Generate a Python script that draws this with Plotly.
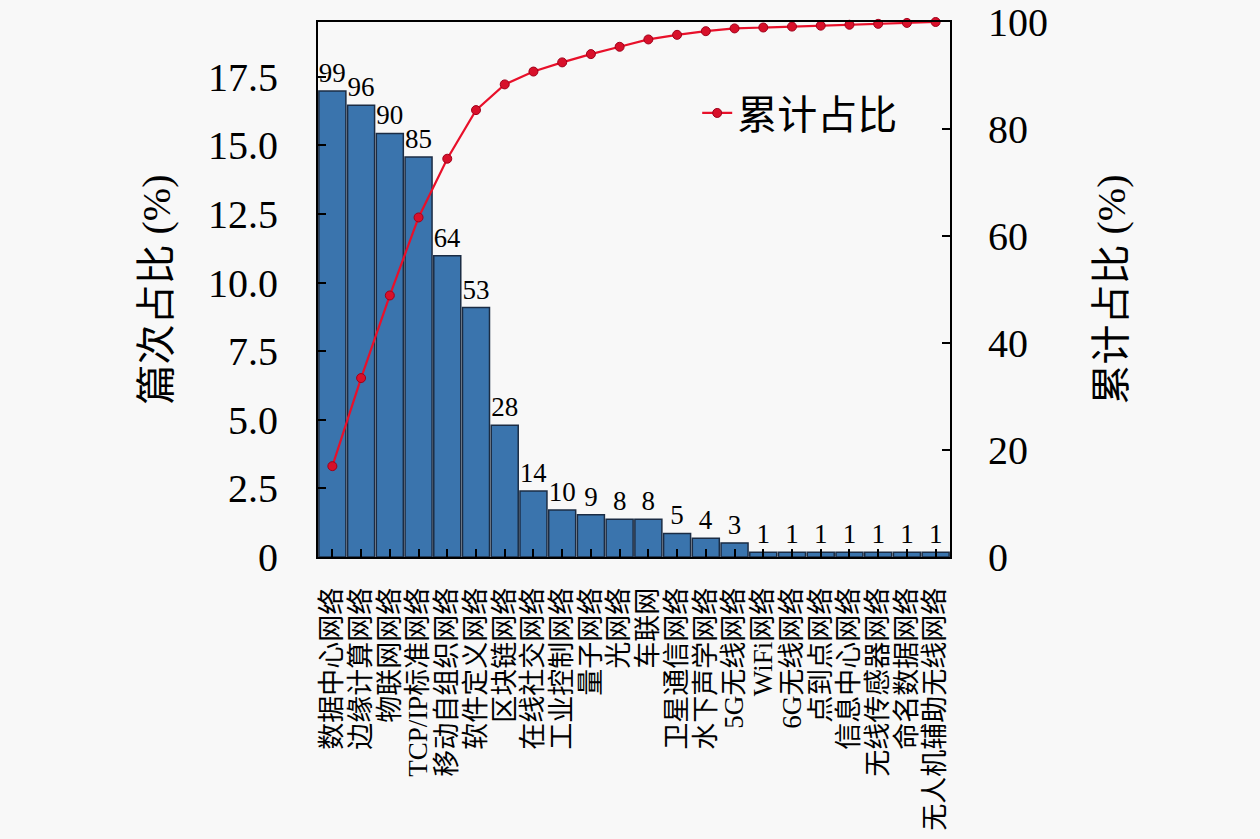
import plotly.graph_objects as go

categories = ["数据中心网络", "边缘计算网络", "物联网网络", "TCP/IP标准网络", "移动自组织网络",
              "软件定义网络", "区块链网络", "在线社交网络", "工业控制网络", "量子网络", "光网络",
              "车联网", "卫星通信网络", "水下声学网络", "5G无线网络", "WiFi网络", "6G无线网络",
              "点到点网络", "信息中心网络", "无线传感器网络", "命名数据网络", "无人机辅助无线网络"]
counts = [99, 96, 90, 85, 64, 53, 28, 14, 10, 9, 8, 8, 5, 4, 3, 1, 1, 1, 1, 1, 1, 1]
left_tickvals = [0, 2.5, 5.0, 7.5, 10.0, 12.5, 15.0, 17.5]
left_ticktext = ["0", "2.5", "5.0", "7.5", "10.0", "12.5", "15.0", "17.5"]
right_tickvals = [0, 20, 40, 60, 80, 100]

total = sum(counts)
share = [c / total * 100 for c in counts]
cum = []
s = 0
for c in counts:
    s += c
    cum.append(s / total * 100)

FONT = "Liberation Serif, Noto Sans CJK SC, serif"

fig = go.Figure()
fig.add_trace(go.Bar(
    x=categories, y=share, text=[str(c) for c in counts], textposition="outside",
    textfont=dict(size=27, color="black", family=FONT), cliponaxis=False,
    marker=dict(color="#3a74ad", line=dict(color="#1b2c44", width=1.5)),
    showlegend=False,
))
fig.add_trace(go.Scatter(
    x=categories, y=cum, yaxis="y2", mode="lines+markers", name="累计占比",
    line=dict(color="#e8102a", width=2.2),
    marker=dict(color="#d8102a", size=9, line=dict(color="#a0001a", width=1)),
    cliponaxis=False,
))

fig.update_layout(
    width=1260, height=839,
    margin=dict(l=318, r=310, t=22, b=282),
    paper_bgcolor="#f8f8f8", plot_bgcolor="#f8f8f8",
    font=dict(family=FONT, color="black", size=40),
    bargap=0.06,
    xaxis=dict(
        range=[-0.5, len(categories) - 0.5], tickangle=-90, tickmode="array",
        tickvals=categories, ticktext=categories, automargin=False,
        tickfont=dict(size=27, family=FONT), ticks="inside", ticklen=8, tickwidth=1.5,
        tickcolor="black", showline=True, linecolor="black", linewidth=2, mirror=True,
        showgrid=False, ticklabelstandoff=18,
    ),
    yaxis=dict(
        range=[0, 19.5], tickvals=left_tickvals, ticktext=left_ticktext, automargin=False,
        tickfont=dict(size=40, family=FONT), ticks="inside", ticklen=8, tickwidth=1.5,
        tickcolor="black", showline=True, linecolor="black", linewidth=2,
        showgrid=False, zeroline=False, ticklabelstandoff=30,
        title=dict(text="篇次占比 (%)", font=dict(size=40, family=FONT), standoff=25),
    ),
    yaxis2=dict(
        range=[0, 100], tickvals=right_tickvals, overlaying="y", side="right", automargin=False,
        tickfont=dict(size=40, family=FONT), ticks="inside", ticklen=8, tickwidth=1.5,
        tickcolor="black", showline=True, linecolor="black", linewidth=2,
        showgrid=False, zeroline=False, ticklabelstandoff=28,
        title=dict(text="累计占比 (%)", font=dict(size=40, family=FONT), standoff=50),
    ),
    legend=dict(x=0.6, y=0.83, xanchor="left", yanchor="middle", bgcolor="rgba(0,0,0,0)",
                font=dict(size=40, family=FONT), itemwidth=30),
)

fig.write_html("out.html", config={"displayModeBar": False},
               post_script="document.body.style.margin='0';window.dispatchEvent(new Event('resize'));")
